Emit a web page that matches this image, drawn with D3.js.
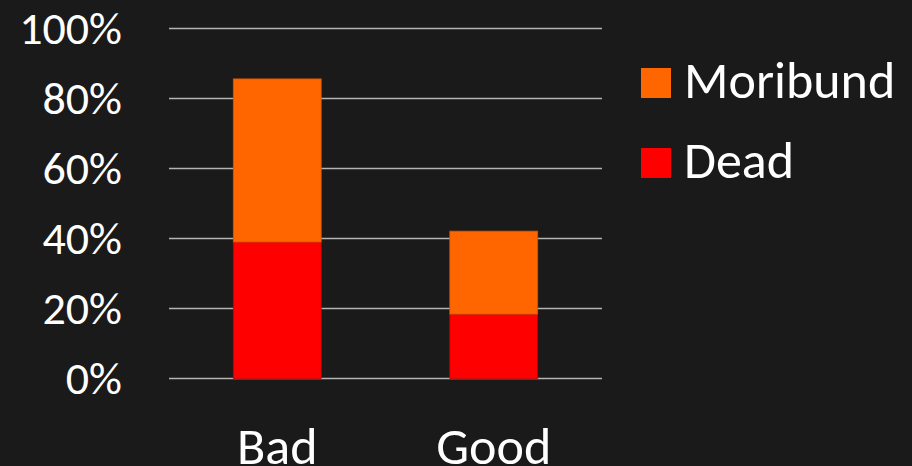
<!DOCTYPE html>
<html>
<head>
<meta charset="utf-8">
<script src="https://cdn.jsdelivr.net/npm/d3@7"></script>
<style>
  html, body { margin: 0; padding: 0; background: #1a1a1a; }
  svg { display: block; }
  text { font-family: Carlito, Lato, "Open Sans", sans-serif; fill: #ffffff; }
</style>
</head>
<body>
<svg id="chart" width="912" height="466"></svg>
<script>
// Share of trees by condition, per site quality
const categories = ["Bad", "Good"];
const dead = [39.0, 18.4];
const moribund = [46.6, 23.7];
const seriesNames = ["Dead", "Moribund"];
const seriesColors = ["#ff0000", "#ff6600"];
const tickValues = [0, 20, 40, 60, 80, 100];

const svg = d3.select("#chart");
const W = 912, H = 466;
svg.append("rect").attr("width", W).attr("height", H).attr("fill", "#1a1a1a");

const plot = { left: 169, right: 602, top: 28.5, bottom: 378.5 };

const x = d3.scaleBand()
  .domain(categories)
  .range([plot.left, plot.right])
  .paddingInner(0.594)
  .paddingOuter(0.297);

const y = d3.scaleLinear().domain([0, 100]).range([plot.bottom, plot.top]);

// Gridlines
svg.append("g")
  .selectAll("line")
  .data(tickValues)
  .join("line")
  .attr("x1", plot.left).attr("x2", plot.right)
  .attr("y1", d => y(d)).attr("y2", d => y(d))
  .attr("stroke", "#b4b4b4")
  .attr("stroke-width", 1.6);

// Y axis labels
const yAxis = d3.axisLeft(y).tickValues(tickValues).tickFormat(d => d + "%").tickSize(0).tickPadding(0);
const yg = svg.append("g").attr("transform", `translate(${122},0)`).call(yAxis);
yg.select(".domain").remove();
yg.selectAll("text")
  .attr("fill", "#ffffff")
  .style("font-size", "46px")
  .attr("dy", "0.33em");

// Stacked bars
const rows = categories.map((c, i) => ({ category: c, Dead: dead[i], Moribund: moribund[i] }));
const stack = d3.stack().keys(seriesNames)(rows);

svg.append("g")
  .selectAll("g")
  .data(stack)
  .join("g")
  .attr("fill", (d, i) => seriesColors[i])
  .attr("stroke", (d, i) => i === 0 ? "#c00000" : "#d45500")
  .attr("stroke-width", 0.8)
  .selectAll("rect")
  .data(d => d)
  .join("rect")
  .attr("x", d => x(d.data.category))
  .attr("width", x.bandwidth())
  .attr("y", d => y(d[1]))
  .attr("height", d => y(d[0]) - y(d[1]));

// Category labels
const xAxis = d3.axisBottom(x).tickSize(0).tickPadding(0);
const xg = svg.append("g").attr("transform", `translate(0,${463.5})`).call(xAxis);
xg.select(".domain").remove();
xg.selectAll("text")
  .attr("fill", "#ffffff")
  .attr("y", 0)
  .attr("dy", 0)
  .style("font-size", "52px");

// Legend
const legendItems = [
  { name: "Moribund", color: seriesColors[1], cy: 83 },
  { name: "Dead", color: seriesColors[0], cy: 163 }
];
const lg = svg.append("g");
lg.selectAll("rect")
  .data(legendItems)
  .join("rect")
  .attr("x", 641).attr("y", d => d.cy - 15)
  .attr("width", 30).attr("height", 30)
  .attr("fill", d => d.color);
lg.selectAll("text")
  .data(legendItems)
  .join("text")
  .attr("x", 684)
  .attr("y", d => d.cy + 15)
  .style("font-size", "52px")
  .text(d => d.name);
</script>
</body>
</html>
